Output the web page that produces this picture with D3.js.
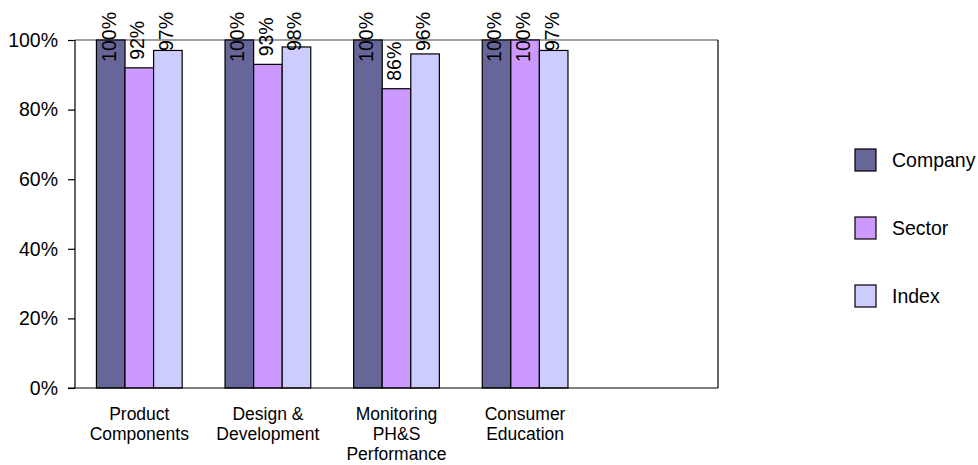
<!DOCTYPE html>
<html><head><meta charset="utf-8">
<script src="https://cdn.jsdelivr.net/npm/d3@7"></script>
<style>
body{margin:0;background:#fff;}
text{font-family:"Liberation Sans",Arial,Helvetica,sans-serif;fill:#000;}
</style></head>
<body><svg id="c" width="978" height="465"></svg>
<script>
const categories = [["Product","Components"],["Design &","Development"],["Monitoring","PH&S","Performance"],["Consumer","Education"],[""]];
const categoryKeys = ["Product Components","Design & Development","Monitoring PH&S Performance","Consumer Education",""];
const seriesNames = ["Company","Sector","Index"];
const companyValues = [100,100,100,100];
const sectorValues = [92,93,86,100];
const indexValues = [97,98,96,97];
const seriesColors = ["#666699","#CC99FF","#CCCCFF"];
const yTicks = [0,20,40,60,80,100];

const svg = d3.select("#c");
const L=75,R=718,T=40,B=388;
const fs = 19.5, fsCat = 17.5;
const x = d3.scaleBand().domain(categoryKeys).range([L,R]);
const inner = d3.scaleBand().domain(seriesNames).range([0,x.bandwidth()]).paddingInner(0).paddingOuter(0.75);
const y = d3.scaleLinear().domain([0,100]).range([B,T]);

// plot frame
svg.append("line").attr("x1",L).attr("x2",R).attr("y1",T).attr("y2",T).attr("stroke","#808080").attr("stroke-width",1.5);
svg.append("line").attr("x1",R).attr("x2",R).attr("y1",T).attr("y2",B).attr("stroke","#000").attr("stroke-width",1.2);

const series = [companyValues, sectorValues, indexValues];
const data=[];
series.forEach((vals,si)=>vals.forEach((v,ci)=>data.push({cat:categoryKeys[ci],s:seriesNames[si],v,color:seriesColors[si]})));

svg.append("g").selectAll("rect").data(data).join("rect")
  .attr("x",d=>x(d.cat)+inner(d.s)).attr("width",inner.bandwidth())
  .attr("y",d=>y(d.v)).attr("height",d=>B-y(d.v))
  .attr("fill",d=>d.color).attr("stroke","#000").attr("stroke-width",1.2);

// labels
svg.append("g").selectAll("text").data(data).join("text")
  .text(d=>d.v+"%").attr("font-size",fs)
  .each(function(d){
    const len=this.getComputedTextLength();
    let start = y(d.v)-8;
    if(start-len<12) start = 12+len;
    const cx = x(d.cat)+inner(d.s)+inner.bandwidth()/2-2;
    d3.select(this).attr("transform",`translate(${cx},${start}) rotate(-90)`).attr("dy","0.35em");
  });

// y axis
const ya = svg.append("g").attr("transform",`translate(${L},0)`)
  .call(d3.axisLeft(y).tickValues(yTicks).tickFormat(d=>d+"%").tickSize(7).tickPadding(10));
ya.select(".domain").attr("stroke","#000").attr("stroke-width",1.2).attr("d",`M0,${T}V${B}`);
ya.selectAll(".tick line").attr("stroke","#000").attr("stroke-width",1.2);
ya.selectAll(".tick text").attr("font-size",fs).attr("font-family",null).attr("fill","#000");

// x axis line
svg.append("line").attr("x1",L-7).attr("x2",R).attr("y1",B).attr("y2",B).attr("stroke","#000").attr("stroke-width",1.2);

// x labels
const xl = svg.append("g").selectAll("text").data(categoryKeys).join("text")
  .attr("x",d=>x(d)+x.bandwidth()/2).attr("y",420).attr("text-anchor","middle").attr("font-size",fsCat);
xl.each(function(d,i){
  const t=d3.select(this);
  categories[i].forEach((ln,j)=>t.append("tspan").attr("x",x(d)+x.bandwidth()/2).attr("y",420+j*20).text(ln));
});

// legend
const ly = d3.scalePoint().domain(seriesNames).range([160,296]);
const lg = svg.append("g").selectAll("g").data(seriesNames).join("g");
lg.append("rect").attr("x",855).attr("y",d=>ly(d)-11).attr("width",21).attr("height",22)
  .attr("fill",(d,i)=>seriesColors[i]).attr("stroke","#000").attr("stroke-width",1.2);
lg.append("text").attr("x",892).attr("y",d=>ly(d)).attr("dy","0.35em").attr("font-size",fs).text(d=>d);
</script></body></html>
